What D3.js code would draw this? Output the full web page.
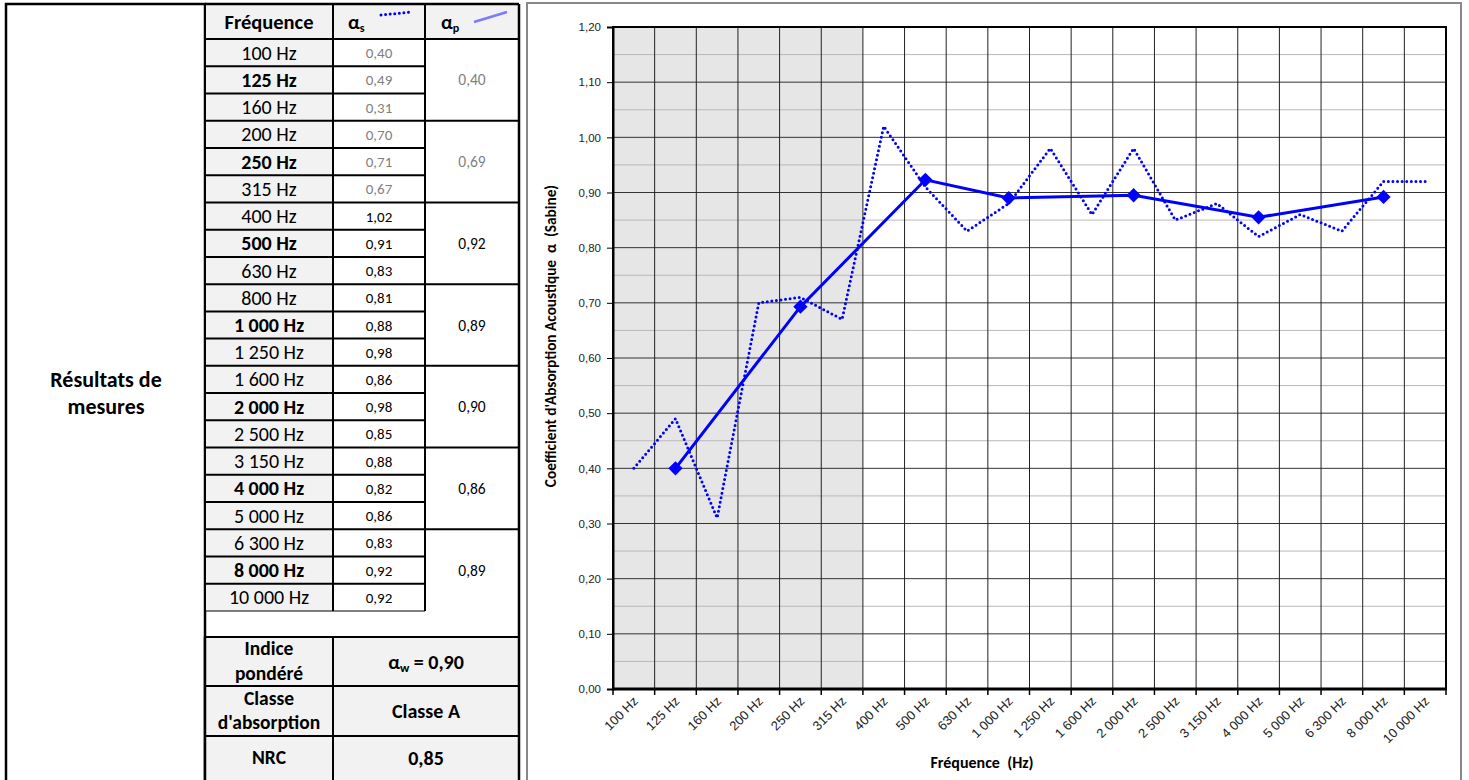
<!DOCTYPE html>
<html><head><meta charset="utf-8">
<script src="https://cdn.jsdelivr.net/npm/d3@7"></script>
<style>body{margin:0;background:#fff}svg{display:block}</style></head>
<body>
<svg id="c" width="1469" height="780"></svg>
<script>
// ---------- DATA ----------
const tableFreqs = ["100 Hz","125 Hz","160 Hz","200 Hz","250 Hz","315 Hz","400 Hz","500 Hz","630 Hz","800 Hz","1 000 Hz","1 250 Hz","1 600 Hz","2 000 Hz","2 500 Hz","3 150 Hz","4 000 Hz","5 000 Hz","6 300 Hz","8 000 Hz","10 000 Hz"];
const boldFreqs = ["125 Hz","250 Hz","500 Hz","1 000 Hz","2 000 Hz","4 000 Hz","8 000 Hz"];
const alphaS = [0.40,0.49,0.31,0.70,0.71,0.67,1.02,0.91,0.83,0.81,0.88,0.98,0.86,0.98,0.85,0.88,0.82,0.86,0.83,0.92,0.92];
const alphaP = [0.40,0.69,0.92,0.89,0.90,0.86,0.89];
const greyRowsS = 6;   // first rows printed in grey
const greyRowsP = 2;
const summaryLabels = [["Indice","pondéré"],["Classe","d'absorption"],["NRC"]];
const summaryValues = ["= 0,90","Classe A","0,85"];

const chartCats = ["100 Hz","125 Hz","160 Hz","200 Hz","250 Hz","315 Hz","400 Hz","500 Hz","630 Hz","1 000 Hz","1 250 Hz","1 600 Hz","2 000 Hz","2 500 Hz","3 150 Hz","4 000 Hz","5 000 Hz","6 300 Hz","8 000 Hz","10 000 Hz"];
const chartAlphaS = [0.40,0.49,0.31,0.70,0.71,0.67,1.02,0.91,0.83,0.88,0.98,0.86,0.98,0.85,0.88,0.82,0.86,0.83,0.92,0.92];
const octaveCats = ["125 Hz","250 Hz","500 Hz","1 000 Hz","2 000 Hz","4 000 Hz","8 000 Hz"];
const octaveAlphaP = [0.40,0.693,0.923,0.89,0.895,0.855,0.892];
const shadedCats = ["100 Hz","125 Hz","160 Hz","200 Hz","250 Hz","315 Hz"];
const yTickValues = [0,0.1,0.2,0.3,0.4,0.5,0.6,0.7,0.8,0.9,1.0,1.1,1.2];
const yMinorValues = [0.05,0.15,0.25,0.35,0.45,0.55,0.65,0.75,0.85,0.95,1.05,1.15];

// ---------- SETUP ----------
const svg = d3.select("#c");
const cal = "Carlito, Calibri, Lato, 'Open Sans', sans-serif";
const ari = "'Liberation Sans', Arial, sans-serif";
const fmt = v => d3.format(".2f")(v).replace(".", ",");

// ---------- TABLE ----------
const colX = [205, 333, 425, 519];
const headTop = 4, headBot = 39, rowsBot = 611;
const rowY = d3.scaleBand().domain(tableFreqs).range([headBot, rowsBot]);
const rh = rowY.bandwidth();
const T = svg.append("g");

// outer left cell
T.append("rect").attr("x",6).attr("y",headTop).attr("width",colX[0]-6).attr("height",790).attr("fill","#fff").attr("stroke","#000").attr("stroke-width",2.5);
T.append("text").attr("x",106).attr("y",387).attr("text-anchor","middle").attr("font-family",cal).attr("font-weight","bold").attr("font-size",22).text("Résultats de");
T.append("text").attr("x",106).attr("y",414).attr("text-anchor","middle").attr("font-family",cal).attr("font-weight","bold").attr("font-size",22).text("mesures");

// header
T.append("rect").attr("x",colX[0]).attr("y",headTop).attr("width",colX[3]-colX[0]).attr("height",headBot-headTop).attr("fill","#f2f2f2");
T.append("text").attr("x",(colX[0]+colX[1])/2).attr("y",29).attr("text-anchor","middle").attr("font-family",cal).attr("font-weight","bold").attr("font-size",20.5).text("Fréquence");
const hs = T.append("text").attr("x",348).attr("y",29).attr("font-family",cal).attr("font-weight","bold").attr("font-size",20);
hs.append("tspan").text("α"); hs.append("tspan").attr("font-size",12).attr("dy",3).text("s");
T.append("line").attr("x1",381).attr("y1",15).attr("x2",411).attr("y2",12).attr("stroke","#0000ff").attr("stroke-width",3).attr("stroke-dasharray","0,4.6").attr("stroke-linecap","round");
const hp = T.append("text").attr("x",441).attr("y",29).attr("font-family",cal).attr("font-weight","bold").attr("font-size",20);
hp.append("tspan").text("α"); hp.append("tspan").attr("font-size",12).attr("dy",3).text("p");
T.append("line").attr("x1",474).attr("y1",22).attr("x2",507).attr("y2",12).attr("stroke","#7b7bff").attr("stroke-width",2.8);

// frequency column
T.selectAll(".fc").data(tableFreqs).join("rect").attr("x",colX[0]).attr("y",d=>rowY(d)).attr("width",colX[1]-colX[0]).attr("height",rh).attr("fill","#f2f2f2");
T.selectAll(".ft").data(tableFreqs).join("text").attr("x",(colX[0]+colX[1])/2).attr("y",d=>rowY(d)+rh/2+7)
  .attr("text-anchor","middle").attr("font-family",cal).attr("font-size",20).attr("font-weight",d=>boldFreqs.includes(d)?"bold":"normal").text(d=>d);
// alpha s
T.selectAll(".st").data(alphaS).join("text").attr("x",(colX[1]+colX[2])/2).attr("y",(d,i)=>rowY(tableFreqs[i])+rh/2+5.5)
  .attr("text-anchor","middle").attr("font-family",cal).attr("font-size",15).attr("fill",(d,i)=>i<greyRowsS?"#7f7f7f":"#000").text(d=>fmt(d));
// alpha p (merged cells of 3)
T.selectAll(".pt").data(alphaP).join("text").attr("x",(colX[2]+colX[3])/2).attr("y",(d,i)=>rowY(tableFreqs[i*3+1])+rh/2+5.5)
  .attr("text-anchor","middle").attr("font-family",cal).attr("font-size",15.5).attr("fill",(d,i)=>i<greyRowsP?"#7f7f7f":"#000").text(d=>fmt(d));

// table lines
const L = (x1,y1,x2,y2,w=2,c="#000") => T.append("line").attr("x1",x1).attr("y1",y1).attr("x2",x2).attr("y2",y2).attr("stroke",c).attr("stroke-width",w);
tableFreqs.forEach((f,i)=>{ const y=rowY(f); L(colX[0],y,colX[2],y); if(i%3===0) L(colX[2],y,colX[3],y); });
L(colX[0],rowsBot,colX[2],rowsBot,1.2,"#000");
L(colX[0],headTop,colX[3],headTop,2.5);
colX.forEach((x,i)=>{ L(x,headTop,x, i===2?rowsBot:(i===1?rowsBot:780)); });
// summary block
const sumTop = 637, sumRows = [637,686,736,790];
T.append("rect").attr("x",colX[0]).attr("y",sumTop).attr("width",colX[3]-colX[0]).attr("height",160).attr("fill","#f2f2f2");
sumRows.slice(0,3).forEach(y=>L(colX[0],y,colX[3],y,2));
L(colX[1],sumTop,colX[1],780,2);
L(colX[0],sumTop,colX[0],780,2.5);
L(colX[3],headTop,colX[3],780,2.5);
summaryLabels.forEach((lines,i)=>{
  const cy=(sumRows[i]+sumRows[i+1]-(i===2?10:0))/2;
  lines.forEach((t,j)=>T.append("text").attr("x",(colX[0]+colX[1])/2).attr("y",cy+6+(j-(lines.length-1)/2)*24.5)
    .attr("text-anchor","middle").attr("font-family",cal).attr("font-weight","bold").attr("font-size",19.5).text(t));
});
summaryValues.forEach((t,i)=>{
  const cy=(sumRows[i]+sumRows[i+1]-(i===2?10:0))/2;
  const tx=T.append("text").attr("x",(colX[1]+colX[3])/2).attr("y",cy+7).attr("text-anchor","middle").attr("font-family",cal).attr("font-weight","bold").attr("font-size",20);
  if(i===0){ tx.append("tspan").text("α"); tx.append("tspan").attr("font-size",12.5).attr("dy",3).text("w"); tx.append("tspan").attr("dy",-3).text("\u00A0"+t); }
  else tx.text(t);
});

// ---------- CHART ----------
svg.append("rect").attr("x",527).attr("y",3).attr("width",934).attr("height",790).attr("fill","none").attr("stroke","#888").attr("stroke-width",2);
const x = d3.scaleBand().domain(chartCats).range([613,1446]).padding(0);
const bw = x.bandwidth();
const y = d3.scaleLinear().domain([0,1.2]).range([689,27]);
const C = svg.append("g");
C.selectAll(".sh").data(shadedCats).join("rect").attr("x",d=>x(d)).attr("y",y(1.2)).attr("width",bw).attr("height",y(0)-y(1.2)).attr("fill","#e6e6e6");
C.selectAll(".mn").data(yMinorValues).join("line").attr("x1",613).attr("x2",1446).attr("y1",d=>y(d)).attr("y2",d=>y(d)).attr("stroke","#b8b8b8").attr("stroke-width",1);
C.selectAll(".mj").data(yTickValues).join("line").attr("x1",613).attr("x2",1446).attr("y1",d=>y(d)).attr("y2",d=>y(d)).attr("stroke","#333").attr("stroke-width",1);
C.selectAll(".vg").data(chartCats).join("line").attr("x1",d=>x(d)).attr("x2",d=>x(d)).attr("y1",y(1.2)).attr("y2",y(0)).attr("stroke","#222").attr("stroke-width",1);
// frame
C.append("rect").attr("x",613).attr("y",y(1.2)).attr("width",1446-613).attr("height",y(0)-y(1.2)).attr("fill","none").attr("stroke","#000").attr("stroke-width",2);

// y axis
const ya = C.append("g").attr("transform","translate(613,0)").call(d3.axisLeft(y).tickValues(yTickValues).tickSize(6).tickPadding(6).tickFormat(fmt));
ya.select(".domain").attr("stroke-width",2);
ya.selectAll("text").attr("font-family",ari).attr("font-size",11.5).attr("fill","#222");
// x axis ticks at boundaries
const xa = C.append("g").attr("transform",`translate(0,${y(0)})`);
xa.append("line").attr("x1",612).attr("x2",1447).attr("stroke","#000").attr("stroke-width",3);
xa.selectAll(".tk").data(chartCats.concat(["_end"])).join("line").attr("x1",(d,i)=>613+i*bw).attr("x2",(d,i)=>613+i*bw).attr("y1",0).attr("y2",6).attr("stroke","#000").attr("stroke-width",1.5);
xa.selectAll(".tl").data(chartCats).join("text").attr("transform",d=>`translate(${x(d)+bw/2+5},13) rotate(-45)`)
  .attr("text-anchor","end").attr("font-family",ari).attr("font-size",13).attr("fill","#222").text(d=>d);

// axis titles
C.append("text").attr("transform",`translate(556,336) rotate(-90)`).attr("text-anchor","middle").attr("font-family",cal).attr("font-weight","bold").attr("font-size",15.3).attr("xml:space","preserve").text("Coefficient d'Absorption Acoustique  α  (Sabine)");
C.append("text").attr("x",982).attr("y",768).attr("text-anchor","middle").attr("font-family",cal).attr("font-weight","bold").attr("font-size",16).attr("xml:space","preserve").text("Fréquence  (Hz)");

// dotted series
const lineS = d3.line().x((d,i)=>x(chartCats[i])+bw/2).y(d=>y(d));
C.append("path").datum(chartAlphaS).attr("d",lineS).attr("fill","none").attr("stroke","#0000ff").attr("stroke-width",3).attr("stroke-dasharray","0,4.6").attr("stroke-linecap","round");
// solid series
const lineP = d3.line().x((d,i)=>x(octaveCats[i])+bw/2).y(d=>y(d));
C.append("path").datum(octaveAlphaP).attr("d",lineP).attr("fill","none").attr("stroke","#0000ff").attr("stroke-width",3);
C.selectAll(".mk").data(octaveAlphaP).join("path").attr("d",d3.symbol(d3.symbolDiamond2 || d3.symbolDiamond,130)())
  .attr("transform",(d,i)=>`translate(${x(octaveCats[i])+bw/2},${y(d)})`).attr("fill","#0000ff");
</script>
</body></html>
